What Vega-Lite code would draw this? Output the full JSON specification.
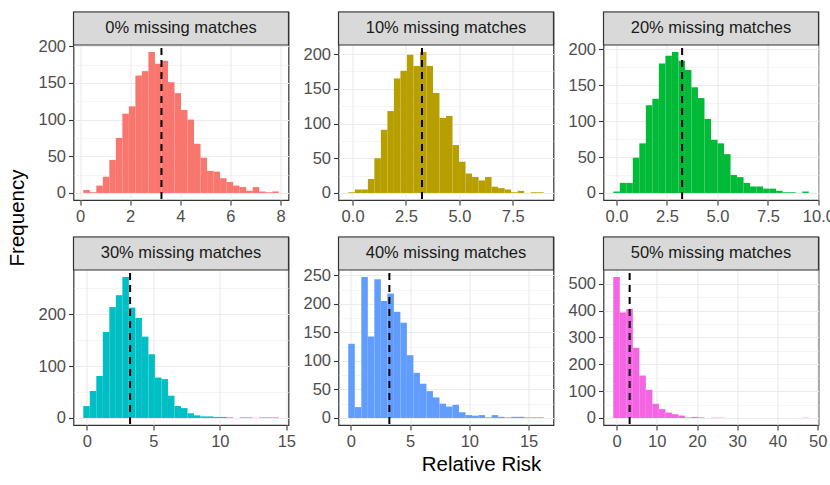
{
  "$schema": "https://vega.github.io/schema/vega-lite/v6.json",
  "background": "white",
  "padding": {"left": 5, "top": 10, "right": 0, "bottom": 0},
  "config": {
    "view": {"stroke": null},
    "font": "Liberation Sans",
    "axis": {
      "labelFont": "Liberation Sans", "labelFontSize": 16.5, "labelColor": "#4d4d4d",
      "tickColor": "#333333", "tickSize": 5, "tickWidth": 1.1, "domain": false,
      "gridColor": "#ebebeb", "labelPadding": 3, "labelOverlap": false, "labelFlush": false
    }
  },
  "datasets": {
    "titles": [
      {"axis": "x", "title": "Relative Risk"},
      {"axis": "y", "title": "Frequency"}
    ],
    "ref": [
      {"panel": "0%", "label": "0% missing matches", "rr": 3.25},
      {"panel": "10%", "label": "10% missing matches", "rr": 3.25},
      {"panel": "20%", "label": "20% missing matches", "rr": 3.25},
      {"panel": "30%", "label": "30% missing matches", "rr": 3.25},
      {"panel": "40%", "label": "40% missing matches", "rr": 3.25},
      {"panel": "50%", "label": "50% missing matches", "rr": 3.25}
    ],
    "hist": [
      {"panel": "0%", "lo": 0.13, "hi": 0.39, "n": 4},
      {"panel": "0%", "lo": 0.39, "hi": 0.65, "n": 1},
      {"panel": "0%", "lo": 0.65, "hi": 0.91, "n": 10},
      {"panel": "0%", "lo": 0.91, "hi": 1.17, "n": 22},
      {"panel": "0%", "lo": 1.17, "hi": 1.43, "n": 45},
      {"panel": "0%", "lo": 1.43, "hi": 1.69, "n": 75},
      {"panel": "0%", "lo": 1.69, "hi": 1.95, "n": 108},
      {"panel": "0%", "lo": 1.95, "hi": 2.21, "n": 118},
      {"panel": "0%", "lo": 2.21, "hi": 2.47, "n": 160},
      {"panel": "0%", "lo": 2.47, "hi": 2.73, "n": 166},
      {"panel": "0%", "lo": 2.73, "hi": 2.99, "n": 192},
      {"panel": "0%", "lo": 2.99, "hi": 3.25, "n": 176},
      {"panel": "0%", "lo": 3.25, "hi": 3.51, "n": 180},
      {"panel": "0%", "lo": 3.51, "hi": 3.77, "n": 151},
      {"panel": "0%", "lo": 3.77, "hi": 4.03, "n": 136},
      {"panel": "0%", "lo": 4.03, "hi": 4.29, "n": 113},
      {"panel": "0%", "lo": 4.29, "hi": 4.55, "n": 100},
      {"panel": "0%", "lo": 4.55, "hi": 4.81, "n": 67},
      {"panel": "0%", "lo": 4.81, "hi": 5.07, "n": 48},
      {"panel": "0%", "lo": 5.07, "hi": 5.33, "n": 30},
      {"panel": "0%", "lo": 5.33, "hi": 5.59, "n": 29},
      {"panel": "0%", "lo": 5.59, "hi": 5.85, "n": 20},
      {"panel": "0%", "lo": 5.85, "hi": 6.11, "n": 15},
      {"panel": "0%", "lo": 6.11, "hi": 6.37, "n": 10},
      {"panel": "0%", "lo": 6.37, "hi": 6.63, "n": 8},
      {"panel": "0%", "lo": 6.63, "hi": 6.89, "n": 3},
      {"panel": "0%", "lo": 6.89, "hi": 7.15, "n": 8},
      {"panel": "0%", "lo": 7.15, "hi": 7.41, "n": 2},
      {"panel": "0%", "lo": 7.41, "hi": 7.67, "n": 1},
      {"panel": "0%", "lo": 7.67, "hi": 7.93, "n": 2},

      {"panel": "10%", "lo": -0.2, "hi": 0.105, "n": 1},
      {"panel": "10%", "lo": 0.105, "hi": 0.41, "n": 5},
      {"panel": "10%", "lo": 0.41, "hi": 0.715, "n": 5},
      {"panel": "10%", "lo": 0.715, "hi": 1.02, "n": 20},
      {"panel": "10%", "lo": 1.02, "hi": 1.325, "n": 50},
      {"panel": "10%", "lo": 1.325, "hi": 1.63, "n": 91},
      {"panel": "10%", "lo": 1.63, "hi": 1.935, "n": 118},
      {"panel": "10%", "lo": 1.935, "hi": 2.24, "n": 165},
      {"panel": "10%", "lo": 2.24, "hi": 2.545, "n": 176},
      {"panel": "10%", "lo": 2.545, "hi": 2.85, "n": 199},
      {"panel": "10%", "lo": 2.85, "hi": 3.155, "n": 183},
      {"panel": "10%", "lo": 3.155, "hi": 3.46, "n": 203},
      {"panel": "10%", "lo": 3.46, "hi": 3.765, "n": 183},
      {"panel": "10%", "lo": 3.765, "hi": 4.07, "n": 144},
      {"panel": "10%", "lo": 4.07, "hi": 4.375, "n": 108},
      {"panel": "10%", "lo": 4.375, "hi": 4.68, "n": 111},
      {"panel": "10%", "lo": 4.68, "hi": 4.985, "n": 69},
      {"panel": "10%", "lo": 4.985, "hi": 5.29, "n": 45},
      {"panel": "10%", "lo": 5.29, "hi": 5.595, "n": 28},
      {"panel": "10%", "lo": 5.595, "hi": 5.9, "n": 23},
      {"panel": "10%", "lo": 5.9, "hi": 6.205, "n": 18},
      {"panel": "10%", "lo": 6.205, "hi": 6.51, "n": 23},
      {"panel": "10%", "lo": 6.51, "hi": 6.815, "n": 9},
      {"panel": "10%", "lo": 6.815, "hi": 7.12, "n": 7},
      {"panel": "10%", "lo": 7.12, "hi": 7.425, "n": 5},
      {"panel": "10%", "lo": 7.425, "hi": 7.73, "n": 1},
      {"panel": "10%", "lo": 7.73, "hi": 8.035, "n": 3},
      {"panel": "10%", "lo": 8.035, "hi": 8.34, "n": 0},
      {"panel": "10%", "lo": 8.34, "hi": 8.645, "n": 1},
      {"panel": "10%", "lo": 8.645, "hi": 8.95, "n": 1},

      {"panel": "20%", "lo": -0.16, "hi": 0.163, "n": 2},
      {"panel": "20%", "lo": 0.163, "hi": 0.485, "n": 14},
      {"panel": "20%", "lo": 0.485, "hi": 0.808, "n": 14},
      {"panel": "20%", "lo": 0.808, "hi": 1.131, "n": 49},
      {"panel": "20%", "lo": 1.131, "hi": 1.454, "n": 69},
      {"panel": "20%", "lo": 1.454, "hi": 1.776, "n": 122},
      {"panel": "20%", "lo": 1.776, "hi": 2.099, "n": 131},
      {"panel": "20%", "lo": 2.099, "hi": 2.422, "n": 180},
      {"panel": "20%", "lo": 2.422, "hi": 2.744, "n": 191},
      {"panel": "20%", "lo": 2.744, "hi": 3.067, "n": 196},
      {"panel": "20%", "lo": 3.067, "hi": 3.39, "n": 184},
      {"panel": "20%", "lo": 3.39, "hi": 3.712, "n": 171},
      {"panel": "20%", "lo": 3.712, "hi": 4.035, "n": 147},
      {"panel": "20%", "lo": 4.035, "hi": 4.358, "n": 132},
      {"panel": "20%", "lo": 4.358, "hi": 4.681, "n": 103},
      {"panel": "20%", "lo": 4.681, "hi": 5.003, "n": 74},
      {"panel": "20%", "lo": 5.003, "hi": 5.326, "n": 69},
      {"panel": "20%", "lo": 5.326, "hi": 5.649, "n": 54},
      {"panel": "20%", "lo": 5.649, "hi": 5.971, "n": 25},
      {"panel": "20%", "lo": 5.971, "hi": 6.294, "n": 22},
      {"panel": "20%", "lo": 6.294, "hi": 6.617, "n": 14},
      {"panel": "20%", "lo": 6.617, "hi": 6.939, "n": 9},
      {"panel": "20%", "lo": 6.939, "hi": 7.262, "n": 9},
      {"panel": "20%", "lo": 7.262, "hi": 7.585, "n": 6},
      {"panel": "20%", "lo": 7.585, "hi": 7.908, "n": 6},
      {"panel": "20%", "lo": 7.908, "hi": 8.23, "n": 3},
      {"panel": "20%", "lo": 8.23, "hi": 8.553, "n": 1},
      {"panel": "20%", "lo": 8.553, "hi": 8.876, "n": 1},
      {"panel": "20%", "lo": 8.876, "hi": 9.198, "n": 0},
      {"panel": "20%", "lo": 9.198, "hi": 9.521, "n": 2},

      {"panel": "30%", "lo": -0.27, "hi": 0.22, "n": 23},
      {"panel": "30%", "lo": 0.22, "hi": 0.71, "n": 52},
      {"panel": "30%", "lo": 0.71, "hi": 1.2, "n": 81},
      {"panel": "30%", "lo": 1.2, "hi": 1.69, "n": 166},
      {"panel": "30%", "lo": 1.69, "hi": 2.18, "n": 214},
      {"panel": "30%", "lo": 2.18, "hi": 2.67, "n": 237},
      {"panel": "30%", "lo": 2.67, "hi": 3.16, "n": 272},
      {"panel": "30%", "lo": 3.16, "hi": 3.65, "n": 213},
      {"panel": "30%", "lo": 3.65, "hi": 4.14, "n": 193},
      {"panel": "30%", "lo": 4.14, "hi": 4.63, "n": 157},
      {"panel": "30%", "lo": 4.63, "hi": 5.12, "n": 123},
      {"panel": "30%", "lo": 5.12, "hi": 5.61, "n": 78},
      {"panel": "30%", "lo": 5.61, "hi": 6.1, "n": 75},
      {"panel": "30%", "lo": 6.1, "hi": 6.59, "n": 43},
      {"panel": "30%", "lo": 6.59, "hi": 7.08, "n": 23},
      {"panel": "30%", "lo": 7.08, "hi": 7.57, "n": 19},
      {"panel": "30%", "lo": 7.57, "hi": 8.06, "n": 9},
      {"panel": "30%", "lo": 8.06, "hi": 8.55, "n": 5},
      {"panel": "30%", "lo": 8.55, "hi": 9.04, "n": 3},
      {"panel": "30%", "lo": 9.04, "hi": 9.53, "n": 3},
      {"panel": "30%", "lo": 9.53, "hi": 10.02, "n": 2},
      {"panel": "30%", "lo": 10.02, "hi": 10.51, "n": 2},
      {"panel": "30%", "lo": 10.51, "hi": 11.0, "n": 1},
      {"panel": "30%", "lo": 11.0, "hi": 11.49, "n": 0},
      {"panel": "30%", "lo": 11.49, "hi": 11.98, "n": 1},
      {"panel": "30%", "lo": 11.98, "hi": 12.47, "n": 1},
      {"panel": "30%", "lo": 12.47, "hi": 12.96, "n": 0},
      {"panel": "30%", "lo": 12.96, "hi": 13.45, "n": 1},
      {"panel": "30%", "lo": 13.45, "hi": 13.94, "n": 1},
      {"panel": "30%", "lo": 13.94, "hi": 14.43, "n": 1},

      {"panel": "40%", "lo": -0.22, "hi": 0.33, "n": 130},
      {"panel": "40%", "lo": 0.33, "hi": 0.88, "n": 19},
      {"panel": "40%", "lo": 0.88, "hi": 1.43, "n": 247},
      {"panel": "40%", "lo": 1.43, "hi": 1.98, "n": 143},
      {"panel": "40%", "lo": 1.98, "hi": 2.53, "n": 243},
      {"panel": "40%", "lo": 2.53, "hi": 3.08, "n": 205},
      {"panel": "40%", "lo": 3.08, "hi": 3.63, "n": 218},
      {"panel": "40%", "lo": 3.63, "hi": 4.18, "n": 186},
      {"panel": "40%", "lo": 4.18, "hi": 4.73, "n": 167},
      {"panel": "40%", "lo": 4.73, "hi": 5.28, "n": 110},
      {"panel": "40%", "lo": 5.28, "hi": 5.83, "n": 79},
      {"panel": "40%", "lo": 5.83, "hi": 6.38, "n": 60},
      {"panel": "40%", "lo": 6.38, "hi": 6.93, "n": 47},
      {"panel": "40%", "lo": 6.93, "hi": 7.48, "n": 36},
      {"panel": "40%", "lo": 7.48, "hi": 8.03, "n": 25},
      {"panel": "40%", "lo": 8.03, "hi": 8.58, "n": 20},
      {"panel": "40%", "lo": 8.58, "hi": 9.13, "n": 23},
      {"panel": "40%", "lo": 9.13, "hi": 9.68, "n": 10},
      {"panel": "40%", "lo": 9.68, "hi": 10.23, "n": 5},
      {"panel": "40%", "lo": 10.23, "hi": 10.78, "n": 4},
      {"panel": "40%", "lo": 10.78, "hi": 11.33, "n": 5},
      {"panel": "40%", "lo": 11.33, "hi": 11.88, "n": 1},
      {"panel": "40%", "lo": 11.88, "hi": 12.43, "n": 5},
      {"panel": "40%", "lo": 12.43, "hi": 12.98, "n": 2},
      {"panel": "40%", "lo": 12.98, "hi": 13.53, "n": 1},
      {"panel": "40%", "lo": 13.53, "hi": 14.08, "n": 2},
      {"panel": "40%", "lo": 14.08, "hi": 14.63, "n": 2},
      {"panel": "40%", "lo": 14.63, "hi": 15.18, "n": 1},
      {"panel": "40%", "lo": 15.18, "hi": 15.73, "n": 1},
      {"panel": "40%", "lo": 15.73, "hi": 16.28, "n": 1},

      {"panel": "50%", "lo": -0.82, "hi": 0.8, "n": 525},
      {"panel": "50%", "lo": 0.8, "hi": 2.42, "n": 393},
      {"panel": "50%", "lo": 2.42, "hi": 4.04, "n": 406},
      {"panel": "50%", "lo": 4.04, "hi": 5.66, "n": 262},
      {"panel": "50%", "lo": 5.66, "hi": 7.28, "n": 158},
      {"panel": "50%", "lo": 7.28, "hi": 8.9, "n": 105},
      {"panel": "50%", "lo": 8.9, "hi": 10.52, "n": 53},
      {"panel": "50%", "lo": 10.52, "hi": 12.14, "n": 33},
      {"panel": "50%", "lo": 12.14, "hi": 13.76, "n": 20},
      {"panel": "50%", "lo": 13.76, "hi": 15.38, "n": 14},
      {"panel": "50%", "lo": 15.38, "hi": 17.0, "n": 9},
      {"panel": "50%", "lo": 17.0, "hi": 18.62, "n": 2},
      {"panel": "50%", "lo": 18.62, "hi": 20.24, "n": 4},
      {"panel": "50%", "lo": 20.24, "hi": 21.86, "n": 2},
      {"panel": "50%", "lo": 21.86, "hi": 23.48, "n": 0},
      {"panel": "50%", "lo": 23.48, "hi": 25.1, "n": 1},
      {"panel": "50%", "lo": 25.1, "hi": 26.72, "n": 1},
      {"panel": "50%", "lo": 26.72, "hi": 28.34, "n": 0},
      {"panel": "50%", "lo": 28.34, "hi": 29.96, "n": 0},
      {"panel": "50%", "lo": 29.96, "hi": 31.58, "n": 0},
      {"panel": "50%", "lo": 31.58, "hi": 33.2, "n": 0},
      {"panel": "50%", "lo": 33.2, "hi": 34.82, "n": 0},
      {"panel": "50%", "lo": 34.82, "hi": 36.44, "n": 0},
      {"panel": "50%", "lo": 36.44, "hi": 38.06, "n": 0},
      {"panel": "50%", "lo": 38.06, "hi": 39.68, "n": 0},
      {"panel": "50%", "lo": 39.68, "hi": 41.3, "n": 0},
      {"panel": "50%", "lo": 41.3, "hi": 42.92, "n": 0},
      {"panel": "50%", "lo": 42.92, "hi": 44.54, "n": 0},
      {"panel": "50%", "lo": 44.54, "hi": 46.16, "n": 0},
      {"panel": "50%", "lo": 46.16, "hi": 47.78, "n": 1}
    ]
  },
  "hconcat": [
    {
      "width": 26, "height": 412,
      "data": {"name": "titles"}, "transform": [{"filter": "datum.axis == 'y'"}],
      "mark": {"type": "text", "angle": 270, "fontSize": 20.5, "color": "black", "font": "Liberation Sans"},
      "encoding": {"text": {"field": "title"}}
    },
    {
      "vconcat": [
        {
          "columns": 3,
          "spacing": {"row": 37, "column": 50},
          "bounds": "flush",
          "concat": [
            {
              "width": 215, "height": 188,
              "view": {"stroke": "#333333", "strokeWidth": 1.2},
              "resolve": {"scale": {"x": "independent", "y": "independent"}},
              "layer": [
                {
                  "layer": [
                    {
                      "data": {"name": "hist"}, "transform": [{"filter": "datum.panel == '0%'"}],
                      "mark": {"type": "rect", "color": "#F8766D"},
                      "encoding": {
                        "x": {"field": "lo", "type": "quantitative", "scale": {"domain": [-0.26, 8.32], "nice": false, "zero": false},
                          "axis": {"title": null, "values": [0,1,2,3,4,5,6,7,8], "format": "d",
                            "labelExpr": "datum.value % 2 == 0 ? datum.label : ''",
                            "tickOpacity": {"condition": {"test": "datum.value % 2 != 0", "value": 0}, "value": 1},
                            "gridWidth": {"condition": {"test": "datum.value % 2 != 0", "value": 0.55}, "value": 1.1}}},
                        "x2": {"field": "hi"},
                        "y": {"field": "n", "type": "quantitative", "scale": {"domain": [-9.6, 246.57], "nice": false, "zero": false},
                          "axis": {"title": null, "values": [0,25,50,75,100,125,150,175,200], "format": "d",
                            "labelExpr": "datum.value % 50 == 0 ? datum.label : ''",
                            "tickOpacity": {"condition": {"test": "datum.value % 50 != 0", "value": 0}, "value": 1},
                            "gridWidth": {"condition": {"test": "datum.value % 50 != 0", "value": 0.55}, "value": 1.1}}},
                        "y2": {"datum": 0}
                      }
                    },
                    {
                      "data": {"name": "ref"}, "transform": [{"filter": "datum.panel == '0%'"}],
                      "mark": {"type": "rule", "color": "black", "strokeWidth": 2, "strokeDash": [7, 5]},
                      "encoding": {"x": {"field": "rr", "type": "quantitative"}}
                    }
                  ]
                },
                {
                  "data": {"name": "ref"}, "transform": [{"filter": "datum.panel == '0%'"}],
                  "encoding": {
                    "x": {"datum": 0, "type": "quantitative", "scale": {"domain": [0, 1], "nice": false, "zero": false}, "axis": null},
                    "y": {"datum": 0, "type": "quantitative", "scale": {"domain": [-4.697, 1], "nice": false, "zero": false}, "axis": null}
                  },
                  "layer": [
                    {
                      "mark": {"type": "rect", "color": "#d9d9d9", "stroke": "#333333", "strokeWidth": 1.2},
                      "encoding": {"x2": {"datum": 1}, "y2": {"datum": 1}}
                    },
                    {
                      "mark": {"type": "text", "fontSize": 16.5, "color": "#1a1a1a"},
                      "encoding": {"x": {"datum": 0.5, "type": "quantitative"}, "y": {"datum": 0.5, "type": "quantitative"}, "text": {"field": "label"}}
                    }
                  ]
                }
              ]
            },
            {
              "width": 215, "height": 188,
              "view": {"stroke": "#333333", "strokeWidth": 1.2},
              "resolve": {"scale": {"x": "independent", "y": "independent"}},
              "layer": [
                {
                  "layer": [
                    {
                      "data": {"name": "hist"}, "transform": [{"filter": "datum.panel == '10%'"}],
                      "mark": {"type": "rect", "color": "#B79F00"},
                      "encoding": {
                        "x": {"field": "lo", "type": "quantitative", "scale": {"domain": [-0.66, 9.41], "nice": false, "zero": false},
                          "axis": {"title": null, "values": [0,1.25,2.5,3.75,5,6.25,7.5,8.75], "format": ".1f",
                            "labelExpr": "datum.value % 2.5 == 0 ? datum.label : ''",
                            "tickOpacity": {"condition": {"test": "datum.value % 2.5 != 0", "value": 0}, "value": 1},
                            "gridWidth": {"condition": {"test": "datum.value % 2.5 != 0", "value": 0.55}, "value": 1.1}}},
                        "x2": {"field": "hi"},
                        "y": {"field": "n", "type": "quantitative", "scale": {"domain": [-10.15, 260.69], "nice": false, "zero": false},
                          "axis": {"title": null, "values": [0,25,50,75,100,125,150,175,200], "format": "d",
                            "labelExpr": "datum.value % 50 == 0 ? datum.label : ''",
                            "tickOpacity": {"condition": {"test": "datum.value % 50 != 0", "value": 0}, "value": 1},
                            "gridWidth": {"condition": {"test": "datum.value % 50 != 0", "value": 0.55}, "value": 1.1}}},
                        "y2": {"datum": 0}
                      }
                    },
                    {
                      "data": {"name": "ref"}, "transform": [{"filter": "datum.panel == '10%'"}],
                      "mark": {"type": "rule", "color": "black", "strokeWidth": 2, "strokeDash": [7, 5]},
                      "encoding": {"x": {"field": "rr", "type": "quantitative"}}
                    }
                  ]
                },
                {
                  "data": {"name": "ref"}, "transform": [{"filter": "datum.panel == '10%'"}],
                  "encoding": {
                    "x": {"datum": 0, "type": "quantitative", "scale": {"domain": [0, 1], "nice": false, "zero": false}, "axis": null},
                    "y": {"datum": 0, "type": "quantitative", "scale": {"domain": [-4.697, 1], "nice": false, "zero": false}, "axis": null}
                  },
                  "layer": [
                    {
                      "mark": {"type": "rect", "color": "#d9d9d9", "stroke": "#333333", "strokeWidth": 1.2},
                      "encoding": {"x2": {"datum": 1}, "y2": {"datum": 1}}
                    },
                    {
                      "mark": {"type": "text", "fontSize": 16.5, "color": "#1a1a1a"},
                      "encoding": {"x": {"datum": 0.5, "type": "quantitative"}, "y": {"datum": 0.5, "type": "quantitative"}, "text": {"field": "label"}}
                    }
                  ]
                }
              ]
            },
            {
              "width": 215, "height": 188,
              "view": {"stroke": "#333333", "strokeWidth": 1.2},
              "resolve": {"scale": {"x": "independent", "y": "independent"}},
              "layer": [
                {
                  "layer": [
                    {
                      "data": {"name": "hist"}, "transform": [{"filter": "datum.panel == '20%'"}],
                      "mark": {"type": "rect", "color": "#00BA38"},
                      "encoding": {
                        "x": {"field": "lo", "type": "quantitative", "scale": {"domain": [-0.644, 10.005], "nice": false, "zero": false},
                          "axis": {"title": null, "values": [0,1.25,2.5,3.75,5,6.25,7.5,8.75,10], "format": ".1f",
                            "labelExpr": "datum.value % 2.5 == 0 ? datum.label : ''",
                            "tickOpacity": {"condition": {"test": "datum.value % 2.5 != 0", "value": 0}, "value": 1},
                            "gridWidth": {"condition": {"test": "datum.value % 2.5 != 0", "value": 0.55}, "value": 1.1}}},
                        "x2": {"field": "hi"},
                        "y": {"field": "n", "type": "quantitative", "scale": {"domain": [-9.8, 251.7], "nice": false, "zero": false},
                          "axis": {"title": null, "values": [0,25,50,75,100,125,150,175,200], "format": "d",
                            "labelExpr": "datum.value % 50 == 0 ? datum.label : ''",
                            "tickOpacity": {"condition": {"test": "datum.value % 50 != 0", "value": 0}, "value": 1},
                            "gridWidth": {"condition": {"test": "datum.value % 50 != 0", "value": 0.55}, "value": 1.1}}},
                        "y2": {"datum": 0}
                      }
                    },
                    {
                      "data": {"name": "ref"}, "transform": [{"filter": "datum.panel == '20%'"}],
                      "mark": {"type": "rule", "color": "black", "strokeWidth": 2, "strokeDash": [7, 5]},
                      "encoding": {"x": {"field": "rr", "type": "quantitative"}}
                    }
                  ]
                },
                {
                  "data": {"name": "ref"}, "transform": [{"filter": "datum.panel == '20%'"}],
                  "encoding": {
                    "x": {"datum": 0, "type": "quantitative", "scale": {"domain": [0, 1], "nice": false, "zero": false}, "axis": null},
                    "y": {"datum": 0, "type": "quantitative", "scale": {"domain": [-4.697, 1], "nice": false, "zero": false}, "axis": null}
                  },
                  "layer": [
                    {
                      "mark": {"type": "rect", "color": "#d9d9d9", "stroke": "#333333", "strokeWidth": 1.2},
                      "encoding": {"x2": {"datum": 1}, "y2": {"datum": 1}}
                    },
                    {
                      "mark": {"type": "text", "fontSize": 16.5, "color": "#1a1a1a"},
                      "encoding": {"x": {"datum": 0.5, "type": "quantitative"}, "y": {"datum": 0.5, "type": "quantitative"}, "text": {"field": "label"}}
                    }
                  ]
                }
              ]
            },
            {
              "width": 215, "height": 188,
              "view": {"stroke": "#333333", "strokeWidth": 1.2},
              "resolve": {"scale": {"x": "independent", "y": "independent"}},
              "layer": [
                {
                  "layer": [
                    {
                      "data": {"name": "hist"}, "transform": [{"filter": "datum.panel == '30%'"}],
                      "mark": {"type": "rect", "color": "#00BFC4"},
                      "encoding": {
                        "x": {"field": "lo", "type": "quantitative", "scale": {"domain": [-1.005, 15.165], "nice": false, "zero": false},
                          "axis": {"title": null, "values": [0,2.5,5,7.5,10,12.5,15], "format": "d",
                            "labelExpr": "datum.value % 5 == 0 ? datum.label : ''",
                            "tickOpacity": {"condition": {"test": "datum.value % 5 != 0", "value": 0}, "value": 1},
                            "gridWidth": {"condition": {"test": "datum.value % 5 != 0", "value": 0.55}, "value": 1.1}}},
                        "x2": {"field": "hi"},
                        "y": {"field": "n", "type": "quantitative", "scale": {"domain": [-13.6, 349.3], "nice": false, "zero": false},
                          "axis": {"title": null, "values": [0,50,100,150,200,250], "format": "d",
                            "labelExpr": "datum.value % 100 == 0 ? datum.label : ''",
                            "tickOpacity": {"condition": {"test": "datum.value % 100 != 0", "value": 0}, "value": 1},
                            "gridWidth": {"condition": {"test": "datum.value % 100 != 0", "value": 0.55}, "value": 1.1}}},
                        "y2": {"datum": 0}
                      }
                    },
                    {
                      "data": {"name": "ref"}, "transform": [{"filter": "datum.panel == '30%'"}],
                      "mark": {"type": "rule", "color": "black", "strokeWidth": 2, "strokeDash": [7, 5]},
                      "encoding": {"x": {"field": "rr", "type": "quantitative"}}
                    }
                  ]
                },
                {
                  "data": {"name": "ref"}, "transform": [{"filter": "datum.panel == '30%'"}],
                  "encoding": {
                    "x": {"datum": 0, "type": "quantitative", "scale": {"domain": [0, 1], "nice": false, "zero": false}, "axis": null},
                    "y": {"datum": 0, "type": "quantitative", "scale": {"domain": [-4.697, 1], "nice": false, "zero": false}, "axis": null}
                  },
                  "layer": [
                    {
                      "mark": {"type": "rect", "color": "#d9d9d9", "stroke": "#333333", "strokeWidth": 1.2},
                      "encoding": {"x2": {"datum": 1}, "y2": {"datum": 1}}
                    },
                    {
                      "mark": {"type": "text", "fontSize": 16.5, "color": "#1a1a1a"},
                      "encoding": {"x": {"datum": 0.5, "type": "quantitative"}, "y": {"datum": 0.5, "type": "quantitative"}, "text": {"field": "label"}}
                    }
                  ]
                }
              ]
            },
            {
              "width": 215, "height": 188,
              "view": {"stroke": "#333333", "strokeWidth": 1.2},
              "resolve": {"scale": {"x": "independent", "y": "independent"}},
              "layer": [
                {
                  "layer": [
                    {
                      "data": {"name": "hist"}, "transform": [{"filter": "datum.panel == '40%'"}],
                      "mark": {"type": "rect", "color": "#619CFF"},
                      "encoding": {
                        "x": {"field": "lo", "type": "quantitative", "scale": {"domain": [-1.045, 17.105], "nice": false, "zero": false},
                          "axis": {"title": null, "values": [0,2.5,5,7.5,10,12.5,15], "format": "d",
                            "labelExpr": "datum.value % 5 == 0 ? datum.label : ''",
                            "tickOpacity": {"condition": {"test": "datum.value % 5 != 0", "value": 0}, "value": 1},
                            "gridWidth": {"condition": {"test": "datum.value % 5 != 0", "value": 0.55}, "value": 1.1}}},
                        "x2": {"field": "hi"},
                        "y": {"field": "n", "type": "quantitative", "scale": {"domain": [-12.35, 317.2], "nice": false, "zero": false},
                          "axis": {"title": null, "values": [0,25,50,75,100,125,150,175,200,225,250], "format": "d",
                            "labelExpr": "datum.value % 50 == 0 ? datum.label : ''",
                            "tickOpacity": {"condition": {"test": "datum.value % 50 != 0", "value": 0}, "value": 1},
                            "gridWidth": {"condition": {"test": "datum.value % 50 != 0", "value": 0.55}, "value": 1.1}}},
                        "y2": {"datum": 0}
                      }
                    },
                    {
                      "data": {"name": "ref"}, "transform": [{"filter": "datum.panel == '40%'"}],
                      "mark": {"type": "rule", "color": "black", "strokeWidth": 2, "strokeDash": [7, 5]},
                      "encoding": {"x": {"field": "rr", "type": "quantitative"}}
                    }
                  ]
                },
                {
                  "data": {"name": "ref"}, "transform": [{"filter": "datum.panel == '40%'"}],
                  "encoding": {
                    "x": {"datum": 0, "type": "quantitative", "scale": {"domain": [0, 1], "nice": false, "zero": false}, "axis": null},
                    "y": {"datum": 0, "type": "quantitative", "scale": {"domain": [-4.697, 1], "nice": false, "zero": false}, "axis": null}
                  },
                  "layer": [
                    {
                      "mark": {"type": "rect", "color": "#d9d9d9", "stroke": "#333333", "strokeWidth": 1.2},
                      "encoding": {"x2": {"datum": 1}, "y2": {"datum": 1}}
                    },
                    {
                      "mark": {"type": "text", "fontSize": 16.5, "color": "#1a1a1a"},
                      "encoding": {"x": {"datum": 0.5, "type": "quantitative"}, "y": {"datum": 0.5, "type": "quantitative"}, "text": {"field": "label"}}
                    }
                  ]
                }
              ]
            },
            {
              "width": 215, "height": 188,
              "view": {"stroke": "#333333", "strokeWidth": 1.2},
              "resolve": {"scale": {"x": "independent", "y": "independent"}},
              "layer": [
                {
                  "layer": [
                    {
                      "data": {"name": "hist"}, "transform": [{"filter": "datum.panel == '50%'"}],
                      "mark": {"type": "rect", "color": "#F564E3"},
                      "encoding": {
                        "x": {"field": "lo", "type": "quantitative", "scale": {"domain": [-3.25, 50.21], "nice": false, "zero": false},
                          "axis": {"title": null, "values": [0,5,10,15,20,25,30,35,40,45,50], "format": "d",
                            "labelExpr": "datum.value % 10 == 0 ? datum.label : ''",
                            "tickOpacity": {"condition": {"test": "datum.value % 10 != 0", "value": 0}, "value": 1},
                            "gridWidth": {"condition": {"test": "datum.value % 10 != 0", "value": 0.55}, "value": 1.1}}},
                        "x2": {"field": "hi"},
                        "y": {"field": "n", "type": "quantitative", "scale": {"domain": [-26.25, 674.2], "nice": false, "zero": false},
                          "axis": {"title": null, "values": [0,50,100,150,200,250,300,350,400,450,500,550], "format": "d",
                            "labelExpr": "datum.value % 100 == 0 ? datum.label : ''",
                            "tickOpacity": {"condition": {"test": "datum.value % 100 != 0", "value": 0}, "value": 1},
                            "gridWidth": {"condition": {"test": "datum.value % 100 != 0", "value": 0.55}, "value": 1.1}}},
                        "y2": {"datum": 0}
                      }
                    },
                    {
                      "data": {"name": "ref"}, "transform": [{"filter": "datum.panel == '50%'"}],
                      "mark": {"type": "rule", "color": "black", "strokeWidth": 2, "strokeDash": [7, 5]},
                      "encoding": {"x": {"field": "rr", "type": "quantitative"}}
                    }
                  ]
                },
                {
                  "data": {"name": "ref"}, "transform": [{"filter": "datum.panel == '50%'"}],
                  "encoding": {
                    "x": {"datum": 0, "type": "quantitative", "scale": {"domain": [0, 1], "nice": false, "zero": false}, "axis": null},
                    "y": {"datum": 0, "type": "quantitative", "scale": {"domain": [-4.697, 1], "nice": false, "zero": false}, "axis": null}
                  },
                  "layer": [
                    {
                      "mark": {"type": "rect", "color": "#d9d9d9", "stroke": "#333333", "strokeWidth": 1.2},
                      "encoding": {"x2": {"datum": 1}, "y2": {"datum": 1}}
                    },
                    {
                      "mark": {"type": "text", "fontSize": 16.5, "color": "#1a1a1a"},
                      "encoding": {"x": {"datum": 0.5, "type": "quantitative"}, "y": {"datum": 0.5, "type": "quantitative"}, "text": {"field": "label"}}
                    }
                  ]
                }
              ]
            }
          ]
        },
        {
          "width": 816, "height": 6,
          "data": {"name": "titles"}, "transform": [{"filter": "datum.axis == 'x'"}],
          "mark": {"type": "text", "fontSize": 20.5, "color": "black", "font": "Liberation Sans"},
          "encoding": {"text": {"field": "title"}}
        }
      ],
      "spacing": 4
    }
  ],
  "spacing": 5.5
}
